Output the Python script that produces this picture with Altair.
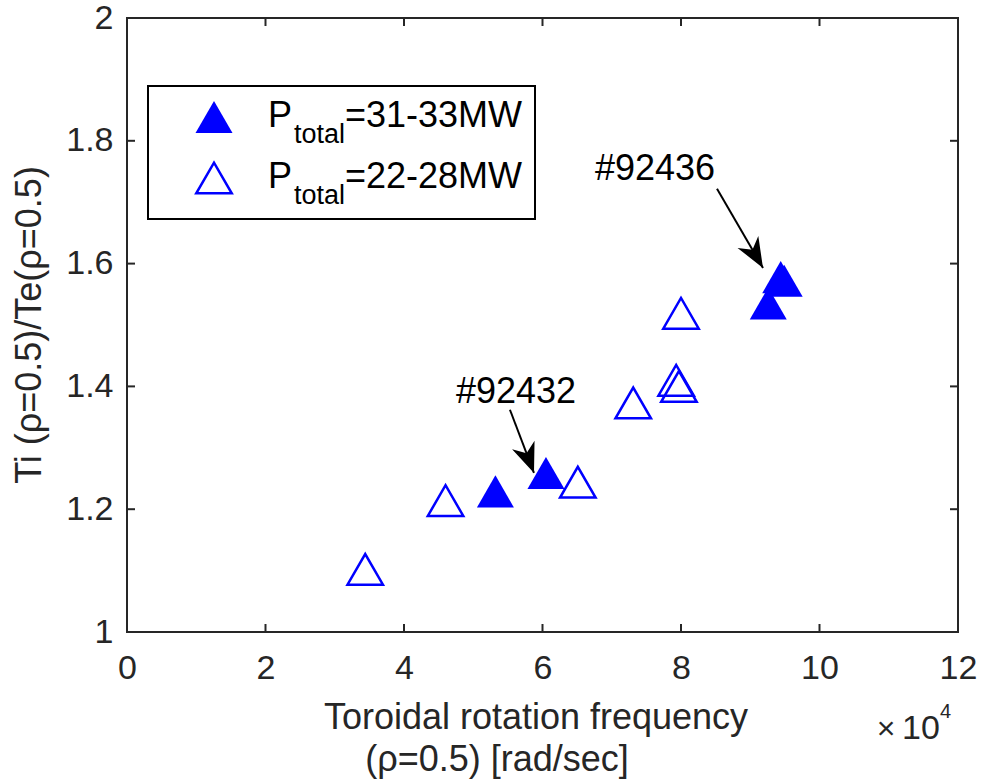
import math
import altair as alt
import pandas as pd

# ---------------- data ----------------
filled_x = [5.32, 6.05, 9.26, 9.44, 9.49]
filled_y = [1.229, 1.259, 1.535, 1.578, 1.572]
open_x = [3.44, 4.60, 6.51, 7.31, 7.93, 7.97, 8.00]
open_y = [1.102, 1.214, 1.244, 1.373, 1.410, 1.400, 1.519]

x_ticks = [0, 2, 4, 6, 8, 10, 12]
y_ticks = [1, 1.2, 1.4, 1.6, 1.8, 2]

annot_text = ["#92432", "#92436"]
annot_x = [5.617, 7.625]
annot_y = [1.373, 1.736]
arrow_x1 = [5.53, 8.52]
arrow_y1 = [1.362, 1.722]
arrow_x2 = [5.877, 9.184]
arrow_y2 = [1.259, 1.593]

legend_main = ["P", "P"]
legend_sub = ["total", "total"]
legend_rest = ["=31-33MW", "=22-28MW"]

x_title_lines = ["Toroidal rotation frequency", "(\u03c1=0.5) [rad/sec]"]
y_title = "Ti (\u03c1=0.5)/Te(\u03c1=0.5)"

# ---------------- layout ----------------
W, H = 831, 614
PL, PT = 127, 18
FONT = "Liberation Sans"
AX = "#262626"
BLUE = "#0000ff"
TRI = "M-1,0.866L1,0.866L0,-0.866Z"
HEAD = "M0,0L0.8,2L0,1.4L-0.8,2Z"
FS = 36

xs = alt.Scale(domain=[0, 12], nice=False, zero=False)
ys = alt.Scale(domain=[1, 2], nice=False, zero=False)
x_axis = alt.Axis(values=x_ticks, ticks=False, domain=False, grid=False, title=None,
                  labelFont=FONT, labelFontSize=34, labelColor=AX, labelPadding=19,
                  labelFlush=False, labelOverlap=False)
y_axis = alt.Axis(values=y_ticks, format="~g", ticks=False, domain=False, grid=False,
                  title=None, labelFont=FONT, labelFontSize=34, labelColor=AX,
                  labelPadding=14, labelFlush=False, labelOverlap=False)


def X(field):
    return alt.X(field, scale=xs, axis=x_axis)


def Y(field):
    return alt.Y(field, scale=ys, axis=y_axis)


filled_df = pd.DataFrame({"x": filled_x, "y": filled_y})
open_df = pd.DataFrame({"x": open_x, "y": open_y})

filled = alt.Chart(filled_df).mark_point(
    shape=TRI, filled=True, fill=BLUE, size=1369, opacity=1, strokeWidth=0
).encode(x=X("x:Q"), y=Y("y:Q"))

opened = alt.Chart(open_df).mark_point(
    shape=TRI, filled=False, stroke=BLUE, strokeWidth=2.5, size=1260, opacity=1
).encode(x=X("x:Q"), y=Y("y:Q"))

# inward ticks on all four sides
xt = pd.DataFrame({"x": x_ticks})
yt = pd.DataFrame({"y": y_ticks})
tick_layers = [
    alt.Chart(xt).mark_rule(color=AX, strokeWidth=2).encode(
        x=X("x:Q"), y=alt.value(H), y2=alt.value(H - 8)),
    alt.Chart(xt).mark_rule(color=AX, strokeWidth=2).encode(
        x=X("x:Q"), y=alt.value(0), y2=alt.value(8)),
    alt.Chart(yt).mark_rule(color=AX, strokeWidth=2).encode(
        y=Y("y:Q"), x=alt.value(0), x2=alt.value(8)),
    alt.Chart(yt).mark_rule(color=AX, strokeWidth=2).encode(
        y=Y("y:Q"), x=alt.value(W), x2=alt.value(W - 8)),
]

# annotations
ann_df = pd.DataFrame({"t": annot_text, "x": annot_x, "y": annot_y})
ann_text = alt.Chart(ann_df).mark_text(
    font=FONT, fontSize=FS, color="black", align="center", baseline="alphabetic"
).encode(x=X("x:Q"), y=Y("y:Q"), text="t:N")

px_x = W / 12.0
px_y = H / 1.0
angles = [math.degrees(math.atan2((x2 - x1) * px_x, (y2 - y1) * px_y))
          for x1, y1, x2, y2 in zip(arrow_x1, arrow_y1, arrow_x2, arrow_y2)]
arr_df = pd.DataFrame({"x1": arrow_x1, "y1": arrow_y1, "x2": arrow_x2, "y2": arrow_y2,
                       "ang": angles})
shaft = alt.Chart(arr_df).mark_rule(color="black", strokeWidth=2).encode(
    x=X("x1:Q"), y=Y("y1:Q"), x2="x2:Q", y2="y2:Q")
heads = alt.Chart(arr_df).mark_point(
    shape=HEAD, filled=True, fill="black", size=900, opacity=1, strokeWidth=0
).encode(x=X("x2:Q"), y=Y("y2:Q"), angle=alt.Angle("ang:Q", scale=None))

# legend
one = pd.DataFrame({"a": [0]})
legend_layers = [
    alt.Chart(one).mark_rect(fill="white", stroke="black", strokeWidth=2).encode(
        x=alt.value(21), x2=alt.value(408), y=alt.value(68), y2=alt.value(201))
]
row_y = [109, 170]
for i in range(2):
    if i == 0:
        sym = alt.Chart(one).mark_point(shape=TRI, filled=True, fill=BLUE, size=1369,
                                        opacity=1, strokeWidth=0)
    else:
        sym = alt.Chart(one).mark_point(shape=TRI, filled=False, stroke=BLUE, size=1260,
                                        opacity=1, strokeWidth=2.5)
    legend_layers.append(sym.encode(x=alt.value(87), y=alt.value(row_y[i] - 10)))
    ldf = pd.DataFrame({"m": [legend_main[i]], "s": [legend_sub[i]], "r": [legend_rest[i]]})
    legend_layers.append(alt.Chart(ldf).mark_text(
        font=FONT, fontSize=FS, color="black", align="left", baseline="alphabetic"
    ).encode(x=alt.value(141), y=alt.value(row_y[i]), text="m:N"))
    legend_layers.append(alt.Chart(ldf).mark_text(
        font=FONT, fontSize=27, color="black", align="left", baseline="alphabetic"
    ).encode(x=alt.value(167), y=alt.value(row_y[i] + 16), text="s:N"))
    legend_layers.append(alt.Chart(ldf).mark_text(
        font=FONT, fontSize=FS, color="black", align="left", baseline="alphabetic"
    ).encode(x=alt.value(218), y=alt.value(row_y[i]), text="r:N"))

# titles
tdf = pd.DataFrame({"l1": [x_title_lines[0]], "l2": [x_title_lines[1]], "yt": [y_title],
                    "times": ["\u00d7"], "ten": ["10"], "exp": ["4"]})
title_layers = [
    alt.Chart(tdf).mark_text(font=FONT, fontSize=FS, color=AX, align="center",
                             baseline="alphabetic").encode(
        x=alt.value(409), y=alt.value(711), text="l1:N"),
    alt.Chart(tdf).mark_text(font=FONT, fontSize=FS, color=AX, align="center",
                             baseline="alphabetic").encode(
        x=alt.value(370), y=alt.value(753), text="l2:N"),
    alt.Chart(tdf).mark_text(font=FONT, fontSize=FS, color=AX, align="center",
                             baseline="middle", angle=270).encode(
        x=alt.value(-97), y=alt.value(307), text="yt:N"),
    alt.Chart(tdf).mark_text(font=FONT, fontSize=32, color=AX, align="center",
                             baseline="alphabetic").encode(
        x=alt.value(759), y=alt.value(721), text="times:N"),
    alt.Chart(tdf).mark_text(font=FONT, fontSize=34, color=AX, align="left",
                             baseline="alphabetic").encode(
        x=alt.value(775), y=alt.value(721), text="ten:N"),
    alt.Chart(tdf).mark_text(font=FONT, fontSize=20, color=AX, align="left",
                             baseline="alphabetic").encode(
        x=alt.value(813), y=alt.value(700), text="exp:N"),
]

chart = alt.layer(
    filled, opened, *tick_layers, shaft, heads, ann_text, *legend_layers, *title_layers
).properties(
    width=W, height=H, autosize="none",
    padding={"left": PL, "top": PT, "right": 981 - PL - W, "bottom": 783 - PT - H},
    background="white",
).configure_view(stroke=AX, strokeWidth=2)

chart.save("out.html", embed_options={"renderer": "svg", "actions": False})
